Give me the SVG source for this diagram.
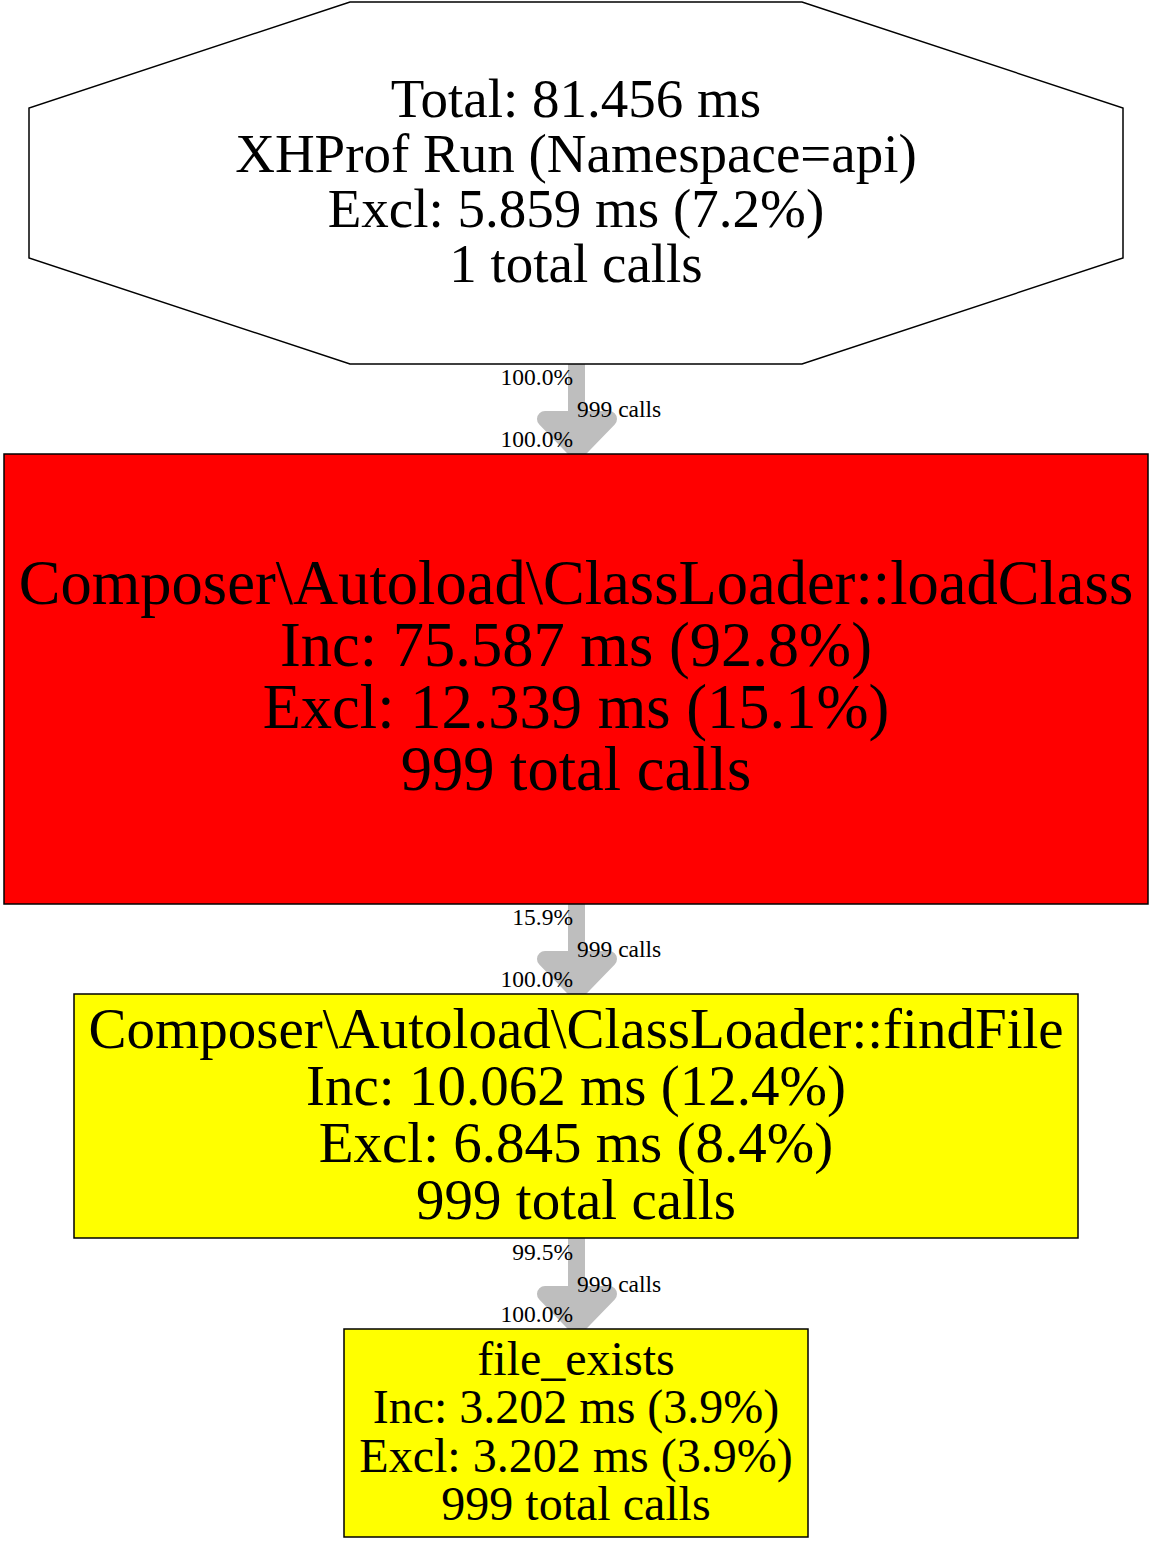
<svg xmlns="http://www.w3.org/2000/svg" width="1154" height="1544" viewBox="0 0 1154 1544">
<defs>
<style>
.n { stroke: #000; stroke-width: 1.5; }
.t { font-family: "Liberation Serif", "Times New Roman", serif; fill: #000; text-anchor: middle; }
.shaft { stroke: #bebebe; stroke-width: 17; fill: none; }
.head { stroke: #bebebe; stroke-width: 16; fill: #bebebe; stroke-linejoin: round; }
.l { font-family: "Liberation Serif", "Times New Roman", serif; font-size: 23.5px; fill: #000; }
.r { text-anchor: end; }
</style>
</defs>
<rect width="1154" height="1544" fill="#fff"/>
<g id="connectors">
  <g id="edge1">
    <line class="shaft" x1="576.5" y1="364" x2="576.5" y2="422"/>
    <polygon class="head" points="545,419 609,419 577,452"/>
    <text class="l r" x="573" y="385">100.0%</text>
    <text class="l" x="577" y="417">999 calls</text>
    <text class="l r" x="573" y="447">100.0%</text>
  </g>
  <g id="edge2">
    <line class="shaft" x1="576.5" y1="904" x2="576.5" y2="962"/>
    <polygon class="head" points="545,959 609,959 577,992"/>
    <text class="l r" x="573" y="925">15.9%</text>
    <text class="l" x="577" y="957">999 calls</text>
    <text class="l r" x="573" y="987">100.0%</text>
  </g>
  <g id="edge3">
    <line class="shaft" x1="576.5" y1="1238" x2="576.5" y2="1297"/>
    <polygon class="head" points="545,1294 609,1294 577,1327"/>
    <text class="l r" x="573" y="1260">99.5%</text>
    <text class="l" x="577" y="1292">999 calls</text>
    <text class="l r" x="573" y="1322">100.0%</text>
  </g>
</g>
<g id="node-root">
  <polygon class="n" fill="#fff" points="350,2 802,2 1123,108 1123,258 802,364 350,364 29,258 29,108"/>
  <g class="t" font-size="55">
    <text x="576" y="117">Total: 81.456 ms</text>
    <text x="576" y="172">XHProf Run (Namespace=api)</text>
    <text x="576" y="227">Excl: 5.859 ms (7.2%)</text>
    <text x="576" y="282">1 total calls</text>
  </g>
</g>
<g id="node-loadClass">
  <rect class="n" fill="#ff0000" x="4" y="454" width="1144" height="450"/>
  <g class="t" font-size="62.5">
    <text x="576" y="604">Composer\Autoload\ClassLoader::loadClass</text>
    <text x="576" y="666">Inc: 75.587 ms (92.8%)</text>
    <text x="576" y="728">Excl: 12.339 ms (15.1%)</text>
    <text x="576" y="790">999 total calls</text>
  </g>
</g>
<g id="node-findFile">
  <rect class="n" fill="#ffff00" x="74" y="994" width="1004" height="244"/>
  <g class="t" font-size="57">
    <text x="576" y="1048">Composer\Autoload\ClassLoader::findFile</text>
    <text x="576" y="1105">Inc: 10.062 ms (12.4%)</text>
    <text x="576" y="1162">Excl: 6.845 ms (8.4%)</text>
    <text x="576" y="1219">999 total calls</text>
  </g>
</g>
<g id="node-file_exists">
  <rect class="n" fill="#ffff00" x="344" y="1329" width="464" height="208"/>
  <g class="t" font-size="48">
    <text x="576" y="1375">file_exists</text>
    <text x="576" y="1423">Inc: 3.202 ms (3.9%)</text>
    <text x="576" y="1472">Excl: 3.202 ms (3.9%)</text>
    <text x="576" y="1520">999 total calls</text>
  </g>
</g>
</svg>
